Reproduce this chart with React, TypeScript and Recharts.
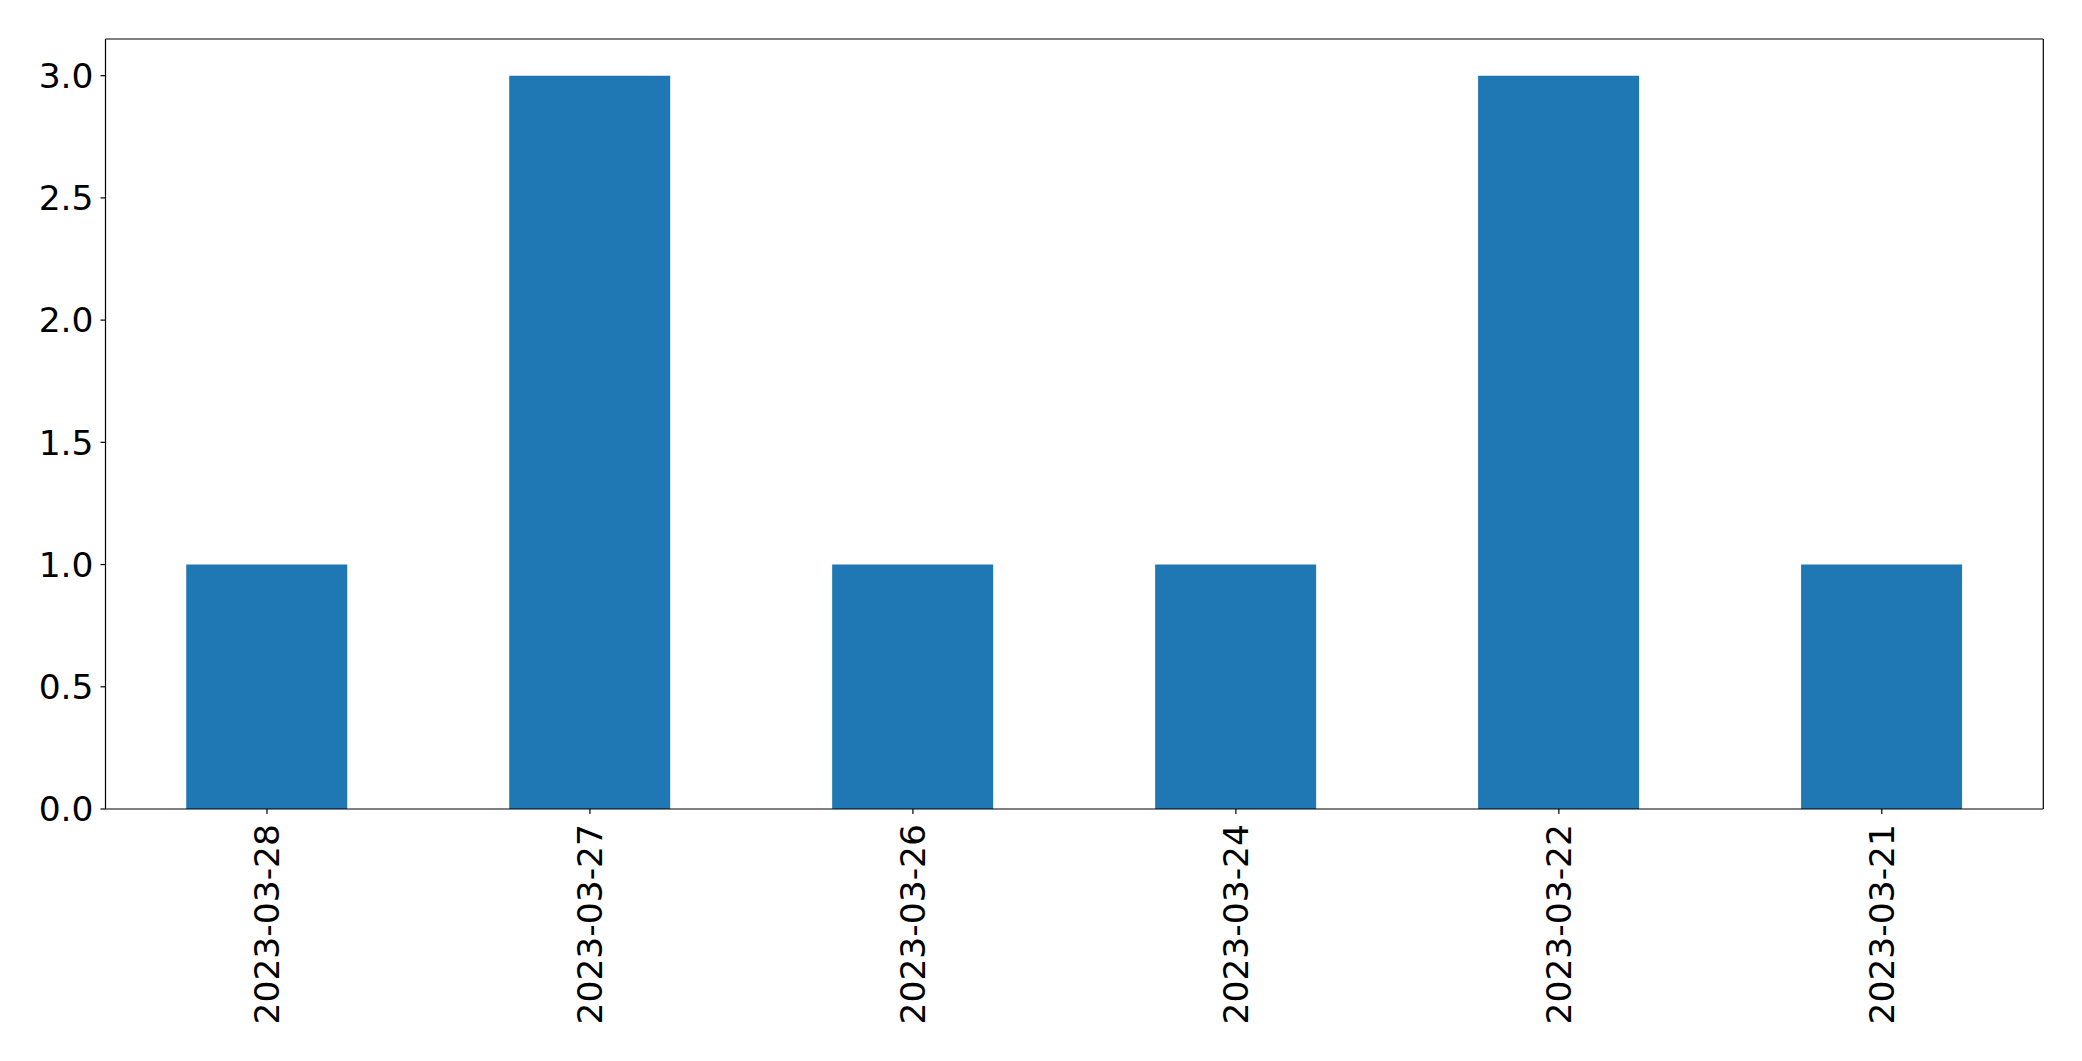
import React from "react";
import { BarChart, Bar, XAxis, YAxis } from "recharts";

const categories = ["2023-03-28", "2023-03-27", "2023-03-26", "2023-03-24", "2023-03-22", "2023-03-21"];
const counts = [1, 3, 1, 1, 3, 1];
const yTicks = [0, 0.5, 1, 1.5, 2, 2.5, 3];

const data = categories.map((c, i) => ({ date: c, count: counts[i] }));

const FONT = "DejaVu Sans";
const FS = 34.5;

const XTick = (props: any) => {
  const { x, y, payload } = props;
  return (
    <g transform={`translate(${x},${y})`}>
      <text
        x={0}
        y={0}
        transform="rotate(-90)"
        textAnchor="end"
        dy="0.36em"
        fontFamily={FONT}
        fontSize={FS}
        fill="#000"
      >
        {payload.value}
      </text>
    </g>
  );
};

export default function App() {
  return (
    <div style={{ position: "absolute", left: 0, top: 0, background: "#fff" }}>
      <BarChart
        width={2082}
        height={1061}
        data={data}
        margin={{ top: 38, right: 37.7, bottom: 0, left: 0 }}
        barCategoryGap="25%"
      >
        <XAxis
          dataKey="date"
          height={252}
          interval={0}
          tickSize={5}
          tickMargin={10}
          tick={<XTick />}
          axisLine={{ stroke: "#000", strokeWidth: 1.2 }}
          tickLine={{ stroke: "#000", strokeWidth: 1.2 }}
        />
        <XAxis
          xAxisId="top"
          dataKey="date"
          orientation="top"
          height={1}
          tick={false}
          tickLine={false}
          axisLine={{ stroke: "#000", strokeWidth: 1.2 }}
        />
        <YAxis
          width={105.5}
          domain={[0, 3.15]}
          ticks={yTicks}
          interval={0}
          tickSize={5}
          tickMargin={7}
          tickFormatter={(v: number) => v.toFixed(1)}
          tick={{ fontFamily: FONT, fontSize: FS, fill: "#000" }}
          axisLine={{ stroke: "#000", strokeWidth: 1.2 }}
          tickLine={{ stroke: "#000", strokeWidth: 1.2 }}
        />
        <YAxis
          yAxisId="right"
          orientation="right"
          width={1}
          domain={[0, 3.15]}
          tick={false}
          tickLine={false}
          axisLine={{ stroke: "#000", strokeWidth: 1.2 }}
        />
        <Bar dataKey="count" fill="#1f77b4" isAnimationActive={false} />
      </BarChart>
    </div>
  );
}
